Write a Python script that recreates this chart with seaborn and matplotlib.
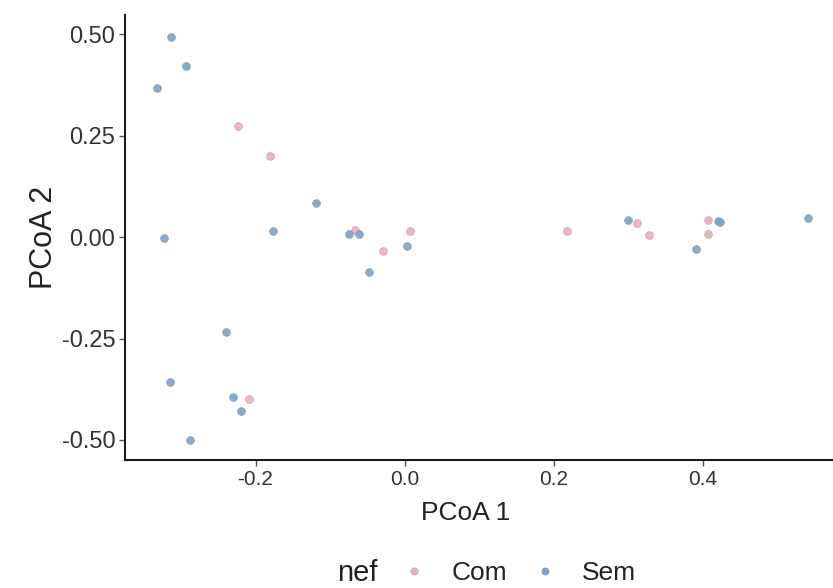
import pandas as pd
import matplotlib
matplotlib.use("Agg")
import matplotlib.pyplot as plt
from matplotlib.lines import Line2D
import seaborn as sns

# PCoA coordinates
com_x = [-0.224, -0.181, -0.067, -0.029, 0.007, -0.209, 0.217, 0.311, 0.327, 0.406, 0.407]
com_y = [0.273, 0.200, 0.017, -0.034, 0.015, -0.399, 0.015, 0.034, 0.005, 0.042, 0.007]

sem_x = [-0.313, -0.293, -0.332, -0.323, -0.177, -0.119, -0.074, -0.061, 0.003, -0.048,
         -0.240, -0.315, -0.230, -0.220, -0.288, 0.299, 0.391, 0.420, 0.423, 0.541]
sem_y = [0.493, 0.421, 0.367, -0.002, 0.015, 0.084, 0.007, 0.007, -0.022, -0.086,
         -0.234, -0.357, -0.393, -0.429, -0.500, 0.042, -0.030, 0.039, 0.037, 0.047]

groups = ["Com", "Sem"]
x_ticks = [-0.2, 0.0, 0.2, 0.4]
y_ticks = [-0.50, -0.25, 0.00, 0.25, 0.50]

df = pd.DataFrame({
    "PCoA1": com_x + sem_x,
    "PCoA2": com_y + sem_y,
    "nef": ["Com"] * len(com_x) + ["Sem"] * len(sem_x),
})

sns.set_style("white")
plt.rcParams["font.family"] = ["Liberation Sans", "DejaVu Sans"]

palette = {"Com": "#ebb0ba", "Sem": "#7aa3c9"}
edges = {"Com": "#c9a9b4", "Sem": "#8a9fb6"}

fig, ax = plt.subplots(figsize=(8.33, 5.88), dpi=100)
fig.subplots_adjust(left=0.150, right=0.999, top=0.974, bottom=0.218)

for g in groups:
    sns.scatterplot(data=df[df["nef"] == g], x="PCoA1", y="PCoA2", color=palette[g],
                    s=30, linewidth=0.7, edgecolor=edges[g], alpha=0.9,
                    legend=False, ax=ax)

ax.set_xlim(-0.375, 0.573)
ax.set_ylim(-0.549, 0.547)
ax.set_xticks(x_ticks)
ax.set_xticklabels([f"{v:.1f}" for v in x_ticks])
ax.set_yticks(y_ticks)
ax.set_yticklabels([f"{v:.2f}" for v in y_ticks])

sns.despine(ax=ax)
for side in ["left", "bottom"]:
    ax.spines[side].set_color("#1a1a1a")
    ax.spines[side].set_linewidth(1.5)
ax.tick_params(axis="both", direction="out", length=4, width=1, color="#555555",
               labelcolor="#333333", pad=3, left=True, bottom=True)
ax.tick_params(axis="x", labelsize=15)
ax.tick_params(axis="y", labelsize=17)

ax.set_xlabel("PCoA 1", fontsize=19, color="#222222")
ax.xaxis.set_label_coords(0.482, -0.093)
ax.set_ylabel("PCoA 2", fontsize=22, color="#222222", labelpad=2)

# legend at the bottom, title to the left of the keys
handles = [Line2D([], [], marker="o", linestyle="", markersize=5,
                  markerfacecolor=palette[g], markeredgecolor=edges[g],
                  markeredgewidth=0.7) for g in groups]
fig.legend(handles, groups, loc="center left", bbox_to_anchor=(0.453, 0.0255), ncol=2,
           frameon=False, fontsize=19, handlelength=1.0, handletextpad=0.9,
           columnspacing=0.95, labelcolor="#222222")
fig.text(0.4286, 0.0255, "nef", fontsize=21, color="#222222", ha="center", va="center")

fig.savefig("out.png", dpi=100)
